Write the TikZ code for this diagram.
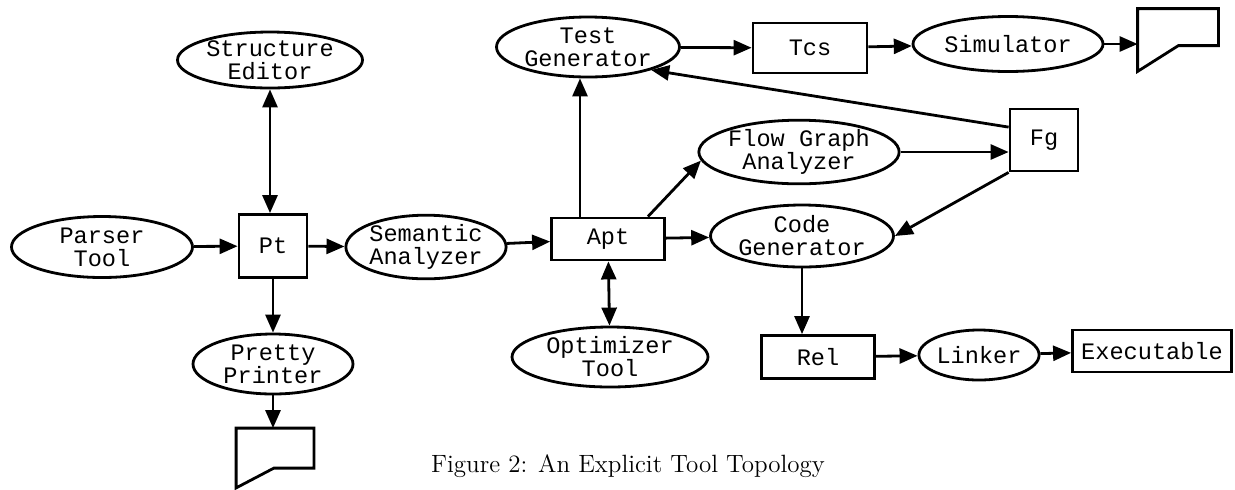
\documentclass[tikz,border=0pt]{standalone}
\usepackage{fontspec}
\setmonofont{Liberation Mono}
\usetikzlibrary{arrows.meta,shapes.geometric}

\begin{document}
\begin{tikzpicture}[x=0.5pt,y=-0.5pt,line width=1.4pt,
  arr/.style={-{Triangle[length=9pt,width=7.5pt]}},
  biarr/.style={{Triangle[length=9pt,width=7.5pt]}-{Triangle[length=9pt,width=7.5pt]}},
  tool/.style={draw,ellipse,inner sep=0pt,align=center,font=\ttfamily\fontsize{11.8}{11.5}\selectfont},
  data/.style={draw,rectangle,inner sep=0pt,font=\ttfamily\fontsize{11.8}{11.5}\selectfont},
  report/.style={inner sep=0pt}]
  \useasboundingbox (0,0) rectangle (1235,489);
  \node[tool,minimum width=92.5pt,minimum height=28pt] (se) at (270,60) {Structure\\Editor};
  \node[tool,minimum width=90.5pt,minimum height=30.5pt] (parser) at (102,247) {Parser\\Tool};
  \node[data,minimum width=34pt,minimum height=31.5pt] (pt) at (273,246) {Pt};
  \node[tool,minimum width=74pt,minimum height=29pt] (sem) at (426,247) {Semantic\\Analyzer};
  \node[tool,minimum width=80pt,minimum height=30pt] (pp) at (273,364) {Pretty\\Printer};
  \node[report,minimum width=37.5pt,minimum height=28.5pt] (outpp) at (275,458) {};
  \draw (outpp.south west) |- (outpp.north east) -- ++(0,40) -- ++(-40,0) -- cycle;
  \node[data,minimum width=56.5pt,minimum height=21pt] (apt) at (608,239) {Apt};
  \node[tool,minimum width=98pt,minimum height=30pt] (opt) at (610,357) {Optimizer\\Tool};
  \node[tool,minimum width=91.5pt,minimum height=30pt] (tg) at (588,47) {Test\\Generator};
  \node[data,minimum width=57pt,minimum height=25pt] (tcs) at (810,48) {Tcs};
  \node[tool,minimum width=95pt,minimum height=27.5pt] (sim) at (1008,44) {Simulator};
  \node[report,minimum width=39pt,minimum height=30pt] (outsim) at (1178,40) {};
  \draw (outsim.south west) |- (outsim.north east) -- ++(0,37) -- ++(-40,0) -- cycle;
  \node[tool,minimum width=91pt,minimum height=30.5pt] (fga) at (799,152) {Flow Graph\\Analyzer};
  \node[data,minimum width=34pt,minimum height=31pt] (fg) at (1044,140) {Fg};
  \node[tool,minimum width=91.5pt,minimum height=31pt] (code) at (802,236) {Code\\Generator};
  \node[data,minimum width=56.5pt,minimum height=21.5pt] (rel) at (818,357) {Rel};
  \node[tool,minimum width=56pt,minimum height=25pt] (link) at (979,355) {Linker};
  \node[data,minimum width=79.5pt,minimum height=21pt] (exe) at (1152,351) {Executable};
  \node[font=\rmfamily\fontsize{12.5}{14}\selectfont] (cap) at (628,466) {Figure 2: An Explicit Tool Topology};
  \draw[biarr] (se.south) -- (se.south |- pt.north);
  \draw[arr] (parser) -- (pt);
  \draw[arr] (pt) -- (sem);
  \draw[arr] (pt) -- (pp);
  \draw[arr] (pp.south) -- (pp.south |- outpp.north);
  \draw[arr] (sem) -- (apt);
  \draw[arr] (apt) -- (code);
  \draw[biarr] (apt) -- (opt);
  \draw[arr] ([xshift=-14pt]apt.north) -- ([xshift=-14pt]apt.north |- tg.south);
  \draw[arr] ([xshift=-9pt]apt.north east) -- (fga.185);
  \draw[arr] (tg) -- (tcs);
  \draw[arr] (tcs) -- (sim);
  \draw[arr] (sim.east) -- (sim.east -| outsim.west);
  \draw[arr] (fga.east) -- (fga.east -| fg.west);
  \draw[arr] (fg.160) -- (tg.-20);
  \draw[arr] (fg.south west) -- (code.east);
  \draw[arr] (code.south) -- (code.south |- rel.north);
  \draw[arr] (rel) -- (link);
  \draw[arr] (link) -- (exe);
\end{tikzpicture}
\end{document}
